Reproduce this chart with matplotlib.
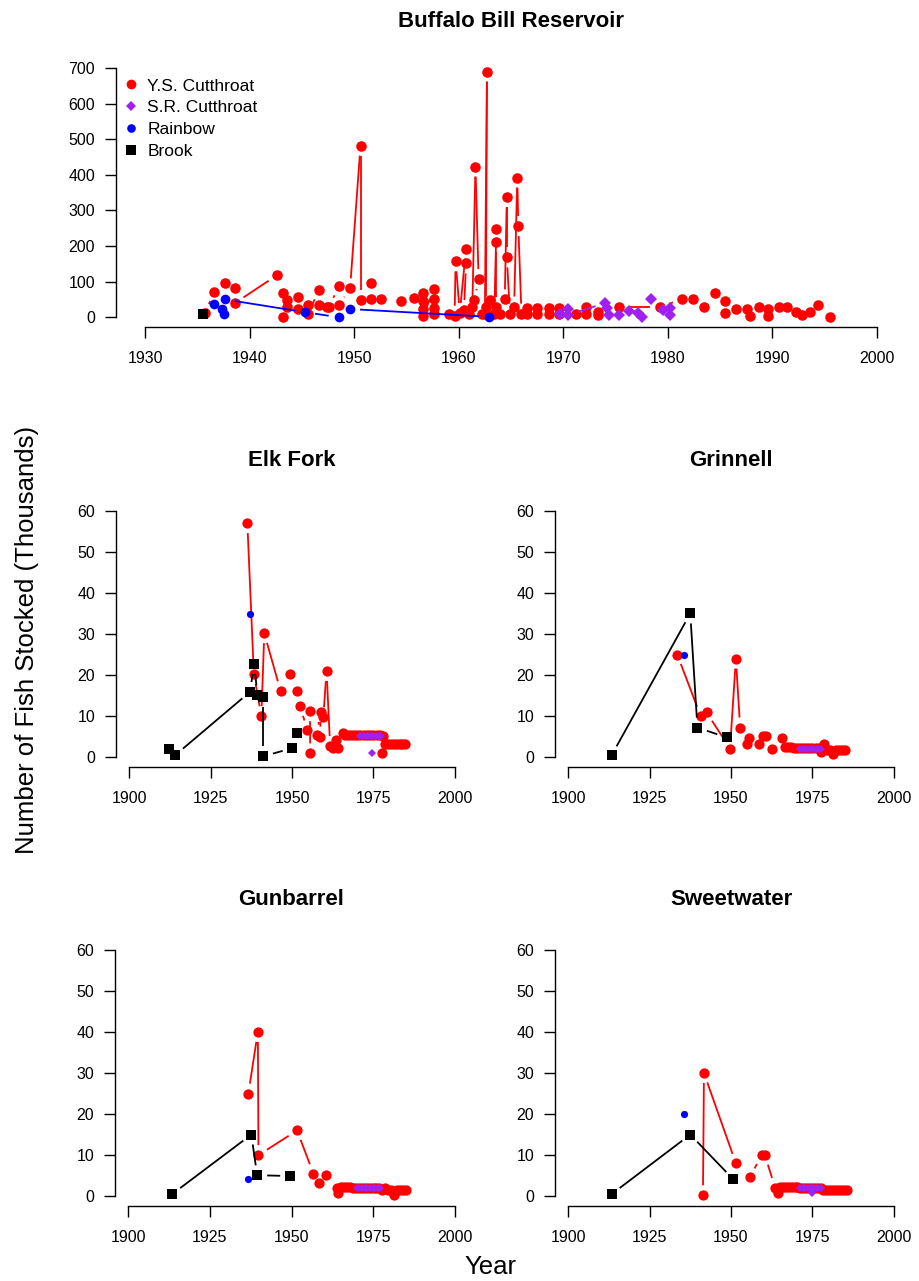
import matplotlib
matplotlib.use("Agg")
import matplotlib.pyplot as plt
from matplotlib.lines import Line2D
import numpy as np

plt.rcParams["font.family"] = ["Liberation Sans", "DejaVu Sans"]

RED = "#FF0000"
PURPLE = "#A020F0"
BLUE = "#0000FF"
BLACK = "#000000"

# ---- Buffalo Bill Reservoir (thousands of fish) ----
bb_ys_year = [1935.7, 1936.6, 1937.6, 1938.6, 1938.6, 1942.6, 1943.2, 1943.6, 1943.6, 1943.2,
              1944.6, 1944.6, 1945.6, 1945.6, 1946.6, 1946.6, 1947.4, 1947.6, 1948.5, 1948.5,
              1949.6, 1950.6, 1950.6, 1951.6, 1951.6, 1952.6, 1954.5, 1955.7, 1956.6, 1956.6,
              1956.6, 1956.6, 1957.6, 1957.6, 1957.6, 1957.6, 1959.1, 1959.6, 1959.7, 1960.1,
              1960.7, 1960.7, 1960.5, 1961.0, 1961.3, 1961.6, 1961.9, 1961.5, 1962.2, 1962.6,
              1962.7, 1962.5, 1963.0, 1963.4, 1963.6, 1963.6, 1963.6, 1963.9, 1964.4, 1964.6,
              1964.6, 1964.9, 1965.3, 1965.6, 1965.7, 1966.0, 1966.5, 1966.5, 1967.5, 1967.5,
              1968.6, 1968.6, 1969.6, 1969.6, 1971.2, 1972.2, 1972.2, 1973.3, 1973.3, 1975.3,
              1979.3, 1981.4, 1982.4, 1983.5, 1984.5, 1985.5, 1985.5, 1986.5, 1987.6, 1987.9,
              1988.7, 1989.6, 1989.6, 1990.6, 1991.4, 1992.3, 1992.8, 1993.6, 1994.4, 1995.5]
bb_ys_n = [11, 71, 95, 81, 40, 118, 67, 48, 29, 0,
           57, 24, 34, 10, 76, 34, 30, 29, 87, 33,
           81, 482, 48, 95, 52, 52, 46, 54, 67, 45,
           24, 3, 78, 50, 27, 8, 10, 4, 157, 12,
           193, 151, 20, 8, 30, 423, 107, 48, 10, 30,
           690, 8, 48, 10, 247, 210, 30, 10, 50, 337,
           168, 10, 30, 392, 256, 10, 25, 8, 25, 8,
           25, 8, 25, 8, 10, 29, 8, 15, 5, 29,
           29, 51, 51, 29, 68, 46, 13, 24, 24, 3,
           29, 24, 3, 29, 29, 15, 6, 15, 34, 1]
bb_sr_year = [1969.7, 1970.5, 1970.5, 1974.0, 1974.2, 1974.4, 1975.3, 1976.3, 1977.2, 1977.5,
              1978.4, 1979.5, 1980.2, 1980.2]
bb_sr_n = [8, 22, 6, 40, 27, 6, 6, 17, 12, 1, 50, 20, 27, 6]
bb_rb_year = [1936.6, 1937.3, 1937.5, 1937.6, 1945.3, 1948.5, 1949.6, 1962.9]
bb_rb_n = [38, 24, 8, 50, 14, 0, 23, 1]
bb_bk_year = [1935.5]
bb_bk_n = [10]

# ---- Elk Fork ----
ek_ys_year = [1936.3, 1938.3, 1940.6, 1941.5, 1946.5, 1949.5, 1951.5, 1952.5, 1954.7, 1955.5,
              1955.6, 1957.6, 1958.8, 1958.6, 1959.6, 1960.6, 1961.7, 1962.5, 1963.4, 1964.2,
              1965.5, 1966.4, 1967.3, 1968.2, 1969.1, 1970.0, 1971.0, 1972.0, 1973.0, 1974.0,
              1975.0, 1976.0, 1977.0, 1978.0, 1977.5, 1978.5, 1979.4, 1980.3, 1981.2, 1982.1,
              1983.0, 1983.9, 1984.8]
ek_ys_n = [57, 20.2, 10, 30.2, 16.1, 20.2, 16.1, 12.4, 6.6, 11.2,
           0.9, 5.5, 11, 5, 9.7, 21, 2.7, 2.2, 4.1, 2.3,
           5.8, 5.4, 5.4, 5.4, 5.4, 5.4, 5.4, 5.4, 5.4, 5.4,
           5.4, 5.4, 5.4, 5.2, 0.9, 3.3, 3.3, 3.2, 3.2, 3.2,
           3.2, 3.2, 3.2]
ek_sr_year = [1971.0, 1971.8, 1972.6, 1973.4, 1974.2, 1974.6, 1975.0, 1975.8, 1976.6, 1977.4]
ek_sr_n = [5.1, 5.1, 5.1, 5.1, 5.1, 1.0, 5.1, 5.1, 5.1, 5.1]
ek_rb_year = [1937.2]
ek_rb_n = [34.9]
ek_bk_year = [1912.4, 1914.2, 1937.1, 1938.4, 1939.4, 1941.2, 1941.2, 1950.1, 1951.4]
ek_bk_n = [1.9, 0.5, 15.9, 22.7, 15.1, 14.6, 0.2, 2.2, 6.0]

# ---- Grinnell ----
gr_ys_year = [1933.5, 1940.7, 1942.5, 1949.7, 1951.5, 1952.8, 1954.8, 1955.4, 1958.6, 1959.7,
              1960.7, 1962.7, 1965.7, 1966.6, 1967.5, 1968.4, 1969.3, 1970.2, 1971.1, 1972.0,
              1973.0, 1974.0, 1975.0, 1976.0, 1977.0, 1977.5, 1978.6, 1979.4, 1980.3, 1981.4,
              1982.2, 1983.1, 1984.0, 1984.9]
gr_ys_n = [25, 10, 10.9, 2.1, 24, 7.2, 3.3, 4.7, 3.2, 5.2,
           5.2, 2.1, 4.6, 2.5, 2.4, 2.4, 2.3, 2.3, 2.3, 2.3,
           2.3, 2.3, 2.3, 2.3, 2.3, 1.3, 3.3, 1.7, 1.7, 0.7,
           1.7, 1.7, 1.7, 1.7]
gr_sr_year = [1971.2, 1972.0, 1972.8, 1973.6, 1974.4, 1975.2, 1976.0, 1976.8, 1977.6]
gr_sr_n = [2.1, 2.1, 2.1, 2.1, 2.1, 2.1, 2.1, 2.1, 2.1]
gr_rb_year = [1935.5]
gr_rb_n = [25]
gr_bk_year = [1913.4, 1937.5, 1939.7, 1948.7]
gr_bk_n = [0.5, 35, 7.2, 4.8]

# ---- Gunbarrel ----
gb_ys_year = [1936.8, 1939.7, 1939.9, 1951.7, 1956.7, 1958.5, 1960.5, 1963.8, 1964.3, 1965.2,
              1966.1, 1967.0, 1967.9, 1968.8, 1969.7, 1970.6, 1971.5, 1972.4, 1973.3, 1974.2,
              1975.1, 1976.0, 1976.9, 1977.8, 1978.7, 1979.6, 1980.5, 1981.4, 1982.3, 1983.2,
              1984.1, 1985.0]
gb_ys_n = [25, 40, 10, 16, 5.5, 3.1, 5.1, 1.9, 0.8, 2.3,
           2.3, 2.2, 2.2, 2.1, 2.1, 2.1, 2.1, 2.1, 2.1, 2.1,
           2.1, 2.1, 2.1, 1.6, 1.9, 1.6, 1.6, 0.2, 1.6, 1.6,
           1.6, 1.6]
gb_sr_year = [1970.0, 1970.8, 1971.6, 1972.4, 1973.2, 1974.0, 1974.8, 1975.6, 1976.4, 1977.2]
gb_sr_n = [2.1, 2.1, 2.1, 2.1, 2.1, 2.1, 2.1, 2.1, 2.1, 2.1]
gb_rb_year = [1936.7]
gb_rb_n = [4.1]
gb_bk_year = [1913.5, 1937.7, 1939.5, 1949.6]
gb_bk_n = [0.5, 15, 5.1, 4.9]

# ---- Sweetwater ----
sw_ys_year = [1941.4, 1941.7, 1951.5, 1955.8, 1959.4, 1960.4, 1963.5, 1964.5, 1965.0, 1965.9,
              1966.8, 1967.7, 1968.6, 1969.5, 1970.4, 1971.2, 1972.1, 1973.0, 1973.9, 1974.8,
              1975.7, 1976.6, 1977.5, 1978.3, 1979.2, 1980.1, 1981.0, 1981.9, 1982.8, 1983.7,
              1984.6, 1985.5]
sw_ys_n = [0.2, 30, 8, 4.6, 10, 10, 2.1, 0.8, 2.3, 2.3,
           2.3, 2.3, 2.2, 2.2, 2.2, 2.1, 2.1, 2.1, 2.1, 2.1,
           2.1, 2.1, 2.1, 1.6, 1.6, 1.6, 1.6, 1.6, 1.6, 1.6,
           1.6, 1.6]
sw_sr_year = [1971.2, 1972.0, 1972.8, 1973.6, 1974.4, 1974.7, 1975.2, 1976.0, 1976.8, 1977.6]
sw_sr_n = [2.1, 2.1, 2.1, 2.1, 2.1, 0.7, 2.1, 2.1, 2.1, 2.1]
sw_rb_year = [1935.7]
sw_rb_n = [20]
sw_bk_year = [1913.4, 1937.5, 1950.7]
sw_bk_n = [0.5, 15, 4.1]

W, H = 919, 1281
fig = plt.figure(figsize=(W / 100, H / 100), dpi=100)


def make_axes(left, right, top, bottom):
    return fig.add_axes([left / W, 1 - bottom / H, (right - left) / W, (bottom - top) / H])


def style(ax, xlim, ylim, xb, yb, xt, yt, title):
    ax.set_xlim(*xlim)
    ax.set_ylim(*ylim)
    for s in ("top", "right"):
        ax.spines[s].set_visible(False)
    ax.spines["bottom"].set_bounds(*xb)
    ax.spines["left"].set_bounds(*yb)
    for s in ("bottom", "left"):
        ax.spines[s].set_linewidth(1.0)
    ax.set_xticks(xt)
    ax.set_yticks(yt)
    ax.tick_params(direction="out", length=8, width=1.0, labelsize=11.5, pad=7)
    ax.tick_params(axis="x", pad=9)
    ax.set_title(title, fontsize=16, fontweight="bold", pad=25.5)


def b_series(ax, x, y, color, marker, ms, z, gap=10, lw=1.3):
    # R-style type="b": segments stop short of each point
    pts = ax.transData.transform(np.column_stack([x, y]))
    inv = ax.transData.inverted()
    for p0, p1 in zip(pts[:-1], pts[1:]):
        d = p1 - p0
        L = np.hypot(d[0], d[1])
        if L <= 2 * gap:
            continue
        u = d / L
        seg = inv.transform(np.array([p0 + u * gap, p1 - u * gap]))
        ax.plot(seg[:, 0], seg[:, 1], color=color, lw=lw, solid_capstyle="butt", zorder=z)
    ax.plot(x, y, ls="none", marker=marker, ms=ms, color=color, mec=color, mew=0, zorder=z + 0.5)


# top panel
ax = make_axes(116, 906, 62.5, 327)
style(ax, (1927.2, 2002.8), (-27.5, 715.5), (1930, 2000), (0, 700),
      np.arange(1930, 2001, 10), np.arange(0, 701, 100), "Buffalo Bill Reservoir")
b_series(ax, bb_ys_year, bb_ys_n, RED, "o", 7.6, 2)
b_series(ax, bb_sr_year, bb_sr_n, PURPLE, "D", 6.2, 3)
b_series(ax, bb_rb_year, bb_rb_n, BLUE, "o", 7.0, 4)
b_series(ax, bb_bk_year, bb_bk_n, BLACK, "s", 7.8, 5)

handles = [Line2D([], [], ls="none", marker="o", color=RED, ms=7.0, mew=0),
           Line2D([], [], ls="none", marker="D", color=PURPLE, ms=5.2, mew=0),
           Line2D([], [], ls="none", marker="o", color=BLUE, ms=6.2, mew=0),
           Line2D([], [], ls="none", marker="s", color=BLACK, ms=7.2, mew=0)]
ax.legend(handles, ["Y.S. Cutthroat", "S.R. Cutthroat", "Rainbow", "Brook"],
          loc="upper left", bbox_to_anchor=(0.008, 0.94), frameon=False,
          fontsize=12.5, borderpad=0, borderaxespad=0, handlelength=1.0,
          handletextpad=0.45, labelspacing=0.38)

panels = [
    ((116, 468, 501, 767), "Elk Fork", ek_ys_year, ek_ys_n, ek_sr_year, ek_sr_n,
     ek_rb_year, ek_rb_n, ek_bk_year, ek_bk_n),
    ((555, 907, 501, 767), "Grinnell", gr_ys_year, gr_ys_n, gr_sr_year, gr_sr_n,
     gr_rb_year, gr_rb_n, gr_bk_year, gr_bk_n),
    ((115, 468, 940, 1206), "Gunbarrel", gb_ys_year, gb_ys_n, gb_sr_year, gb_sr_n,
     gb_rb_year, gb_rb_n, gb_bk_year, gb_bk_n),
    ((555, 907, 940, 1206), "Sweetwater", sw_ys_year, sw_ys_n, sw_sr_year, sw_sr_n,
     sw_rb_year, sw_rb_n, sw_bk_year, sw_bk_n),
]

for box, title, ysx, ysy, srx, sry, rbx, rby, bkx, bky in panels:
    ax = make_axes(*box)
    style(ax, (1896, 2004), (-2.4, 62.4), (1900, 2000), (0, 60),
          np.arange(1900, 2001, 25), np.arange(0, 61, 10), title)
    b_series(ax, ysx, ysy, RED, "o", 7.4, 2)
    b_series(ax, srx, sry, PURPLE, "D", 4.2, 3)
    b_series(ax, rbx, rby, BLUE, "o", 5.2, 4)
    b_series(ax, bkx, bky, BLACK, "s", 7.8, 5)

fig.text(27 / W, 1 - 640 / H, "Number of Fish Stocked (Thousands)", rotation=90,
         ha="center", va="center", fontsize=18.5)
fig.text(490 / W, 1 - 1267 / H, "Year", ha="center", va="center", fontsize=18.5)

fig.savefig("out.png", dpi=100)
plt.close(fig)
